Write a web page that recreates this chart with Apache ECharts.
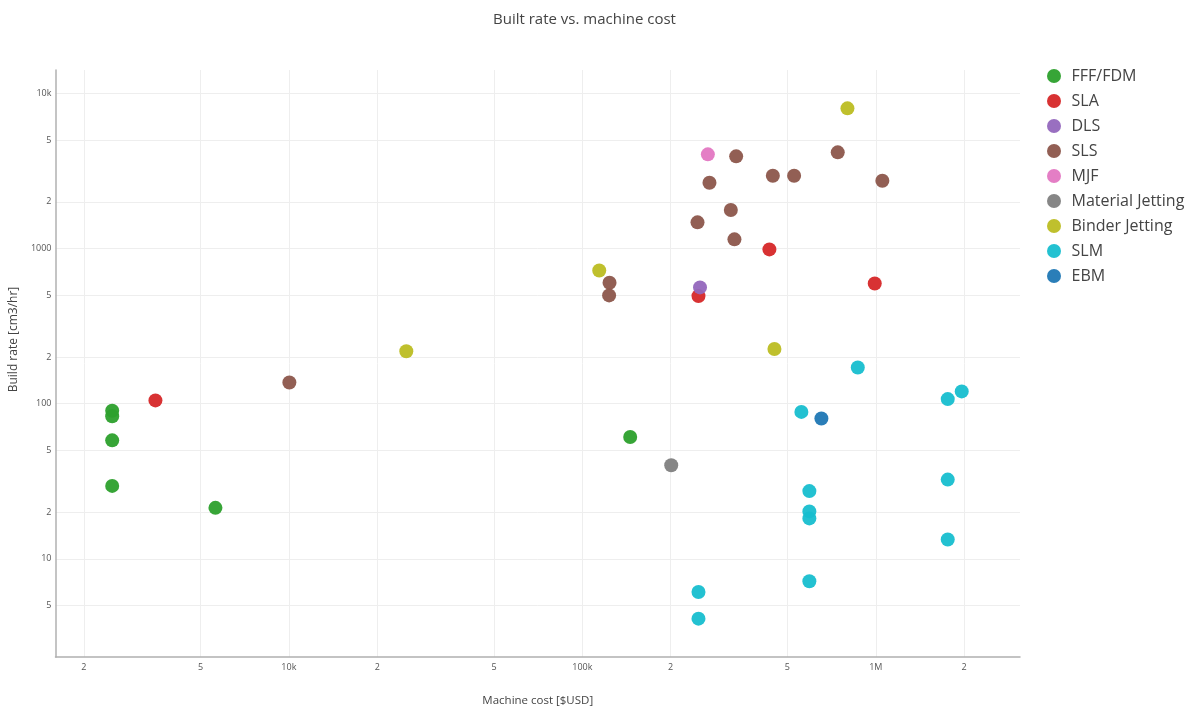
<!DOCTYPE html>
<html>
<head>
<meta charset="utf-8">
<script src="https://cdn.jsdelivr.net/npm/echarts@6/dist/echarts.min.js"></script>
<style>
html,body{margin:0;padding:0;background:#fff;}
#chart{width:1203px;height:713px;}
</style>
</head>
<body>
<div id="chart"></div>
<script>
// Tick values and labels (Plotly-style log axes)
const xTicks = [2000, 5000, 10000, 20000, 50000, 100000, 200000, 500000, 1000000, 2000000];
const xTickLabels = ['2', '5', '10k', '2', '5', '100k', '2', '5', '1M', '2'];
const yTicks = [5, 10, 20, 50, 100, 200, 500, 1000, 2000, 5000, 10000];
const yTickLabels = ['5', '10', '2', '5', '100', '2', '5', '1000', '2', '5', '10k'];

// Series data: machine cost [$USD] and build rate [cm3/hr]
const fffCost   = [2500, 2500, 2500, 2500, 5620, 145600];
const fffRate   = [90, 83, 58, 29.5, 21.3, 61];
const slaCost   = [3510, 434000, 248800, 992000];
const slaRate   = [105, 988, 494, 596];
const dlsCost   = [251800];
const dlsRate   = [562];
const slsCost   = [10040, 334400, 742000, 271200, 445900, 526900, 1053000, 320700, 246900, 329900, 123800, 123400];
const slsRate   = [137, 3934, 4175, 2658, 2949, 2949, 2737, 1772, 1476, 1147, 602, 499];
const mjfCost   = [267800];
const mjfRate   = [4053];
const mjCost    = [200900];
const mjRate    = [40.1];
const bjCost    = [25130, 800700, 114200, 451500];
const bjRate    = [218, 8025, 723, 225];
const slmCost   = [868400, 1759000, 1963000, 557800, 1759000, 593900, 593900, 593900, 1759000, 593900, 248800, 248800];
const slmRate   = [171, 107, 120, 88.5, 32.4, 27.3, 20.2, 18.2, 13.3, 7.16, 6.1, 4.11];
const ebmCost   = [652700];
const ebmRate   = [80.3];

const seriesNames  = ['FFF/FDM', 'SLA', 'DLS', 'SLS', 'MJF', 'Material Jetting', 'Binder Jetting', 'SLM', 'EBM'];
const seriesColors = ['#2ca02c', '#d62728', '#9467bd', '#8c564b', '#e377c2', '#7f7f7f', '#bcbd22', '#17becf', '#1f77b4'];
const seriesX = [fffCost, slaCost, dlsCost, slsCost, mjfCost, mjCost, bjCost, slmCost, ebmCost];
const seriesY = [fffRate, slaRate, dlsRate, slsRate, mjfRate, mjRate, bjRate, slmRate, ebmRate];

const lg = v => Math.log10(v);
function labelFor(ticks, labels) {
  return function (v) {
    for (let i = 0; i < ticks.length; i++) {
      if (Math.abs(lg(ticks[i]) - v) < 1e-6) return labels[i];
    }
    return '';
  };
}

const font = '"Open Sans", "Noto Sans", sans-serif';
const chart = echarts.init(document.getElementById('chart'), null, {renderer: 'canvas'});

const series = seriesNames.map((name, i) => ({
  name: name,
  type: 'scatter',
  symbol: 'circle',
  symbolSize: 14,
  itemStyle: {color: seriesColors[i], opacity: 0.95},
  data: seriesX[i].map((x, j) => [lg(x), lg(seriesY[i][j])])
}));

chart.setOption({
  animation: false,
  backgroundColor: '#fff',
  title: {
    text: 'Built rate vs. machine cost',
    left: 488,
    top: 7,
    textStyle: {fontFamily: font, fontSize: 15, fontWeight: 'normal', color: '#444'}
  },
  legend: {
    orient: 'vertical',
    left: 1042,
    top: 63,
    icon: 'circle',
    itemWidth: 25,
    itemHeight: 14,
    itemGap: 9,
    data: seriesNames,
    textStyle: {fontFamily: font, fontSize: 16, color: '#444', lineHeight: 14}
  },
  grid: {left: 55, right: 183, top: 70, bottom: 56, containLabel: false},
  xAxis: {
    type: 'value',
    min: 3.2047,
    max: 6.4915,
    name: 'Machine cost [$USD]',
    nameLocation: 'middle',
    nameGap: 38,
    nameTextStyle: {fontFamily: font, fontSize: 11.5, color: '#444'},
    axisLine: {show: true, lineStyle: {color: '#b0b0b0', width: 1.5}},
    axisTick: {show: false, customValues: xTicks.map(lg)},
    axisLabel: {
      customValues: xTicks.map(lg),
      formatter: labelFor(xTicks, xTickLabels),
      fontFamily: font, fontSize: 9, color: '#555', margin: 6
    },
    splitLine: {show: true, lineStyle: {color: '#eeeeee', width: 1}}
  },
  yAxis: {
    type: 'value',
    min: 0.3665,
    max: 4.1516,
    name: 'Build rate [cm3/hr]',
    nameLocation: 'middle',
    nameGap: 31,
    nameRotate: 90,
    nameTextStyle: {fontFamily: font, fontSize: 12, color: '#444', padding: [0, 0, 0, 48]},
    axisLine: {show: true, lineStyle: {color: '#b0b0b0', width: 1.5}},
    axisTick: {show: false, customValues: yTicks.map(lg)},
    axisLabel: {
      customValues: yTicks.map(lg),
      formatter: labelFor(yTicks, yTickLabels),
      fontFamily: font, fontSize: 9, color: '#555', margin: 4
    },
    splitLine: {show: true, lineStyle: {color: '#eeeeee', width: 1}}
  },
  series: series
});
</script>
</body>
</html>
